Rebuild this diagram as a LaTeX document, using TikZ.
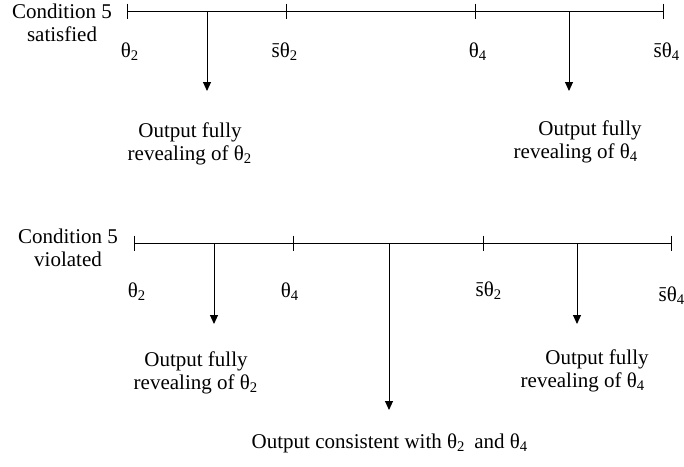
\documentclass[tikz,border=0pt]{standalone}
\usepackage{fontspec}
\setmainfont{Liberation Serif}
\usepackage{tikz}
\usetikzlibrary{positioning, arrows.meta}

\newcommand{\thsub}[1]{θ\textsubscript{#1}}
\newcommand{\sthsub}[1]{\={s}θ\textsubscript{#1}}

\begin{document}
\begin{tikzpicture}[x=0.5pt, y=-0.5pt, line width=0.5pt,
    lbl/.style={anchor=base, inner sep=0pt, font=\fontsize{10.5}{11.5}\selectfont},
    note/.style={anchor=north, inner sep=0pt, align=center, font=\fontsize{10.5}{11.5}\selectfont},
    outarrow/.style={-{Triangle[length=4.5pt, width=4pt]}}]
  \useasboundingbox (0,0) rectangle (684,466);

  % condition 5 satisfied
  \node[note] (sat) at (62,3) {Condition 5\\satisfied};
  \coordinate (s0) at (127,11);
  \coordinate (s1) at (286,11);
  \coordinate (s2) at (475,11);
  \coordinate (s3) at (663,11);
  \draw (s0) -- (s3);
  \foreach \c in {s0,s1,s2,s3}
    \draw ([yshift=3.75pt]\c) -- ([yshift=-3.75pt]\c);
  \node[lbl] (sl0) at (130,57) {\thsub{2}};
  \node[lbl] (sl1) at (285,57) {\sthsub{2}};
  \node[lbl] (sl2) at (478,57) {\thsub{4}};
  \node[lbl] (sl3) at (667,57) {\sthsub{4}};

  \coordinate (sa) at (207,11);
  \coordinate (sa-end) at (207,91);
  \coordinate (sb) at (569,11);
  \coordinate (sb-end) at (569,91);
  \draw[outarrow] (sa) -- (sa-end);
  \draw[outarrow] (sb) -- (sb-end);
  \node[note] (sout2) at (190,122) {Output fully\\revealing of \thsub{2}};
  \node[note] (sout4) at (576,120) {\hspace*{14pt}Output fully\\revealing of \thsub{4}};

  % condition 5 violated
  \node[note] (vio) at (68,228) {Condition 5\\violated};
  \coordinate (v0) at (134,243);
  \coordinate (v1) at (293,243);
  \coordinate (v2) at (483,243);
  \coordinate (v3) at (671,243);
  \draw (v0) -- (v3);
  \foreach \c in {v0,v1,v2,v3}
    \draw ([yshift=3.75pt]\c) -- ([yshift=-3.75pt]\c);
  \node[lbl] (vl0) at (137,297) {\thsub{2}};
  \node[lbl] (vl1) at (290,297) {\thsub{4}};
  \node[lbl] (vl2) at (489,296) {\sthsub{2}};
  \node[lbl] (vl3) at (672,301) {\sthsub{4}};

  \coordinate (va) at (214,243);
  \coordinate (va-end) at (214,324);
  \coordinate (vb) at (389,243);
  \coordinate (vb-end) at (389,410);
  \coordinate (vc) at (577,243);
  \coordinate (vc-end) at (577,324);
  \draw[outarrow] (va) -- (va-end);
  \draw[outarrow] (vb) -- (vb-end);
  \draw[outarrow] (vc) -- (vc-end);
  \node[note] (vout2) at (196,351) {Output fully\\revealing of \thsub{2}};
  \node[note] (vout4) at (583,349) {\hspace*{14pt}Output fully\\revealing of \thsub{4}};
  \node[lbl] (vboth) at (390,448) {Output consistent with \thsub{2}\ \,and \thsub{4}};
\end{tikzpicture}
\end{document}
